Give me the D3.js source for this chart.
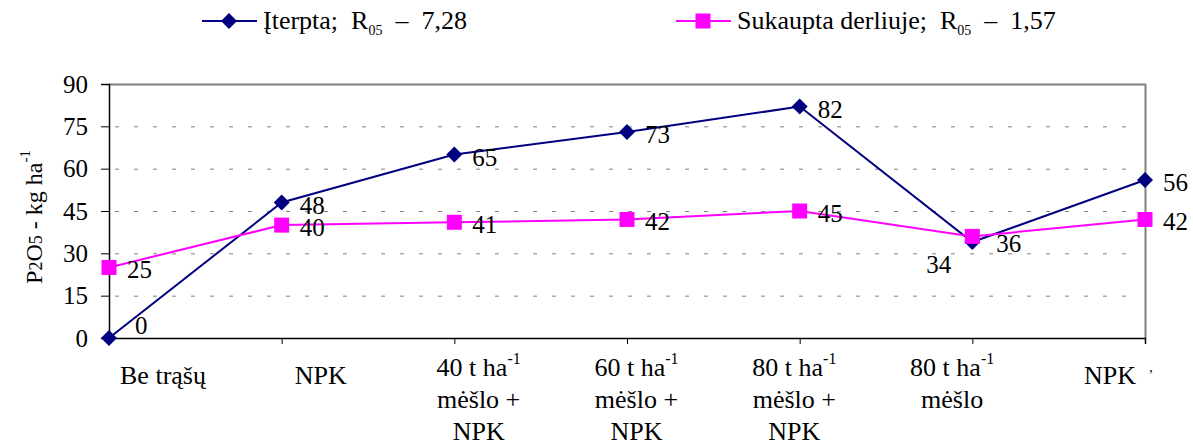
<!DOCTYPE html>
<html>
<head>
<meta charset="utf-8">
<script src="https://cdn.jsdelivr.net/npm/d3@7"></script>
<style>
  body { margin: 0; background: #fff; }
  svg, svg text { font-family: 'Liberation Serif', 'Times New Roman', Times, 'DejaVu Serif', serif !important; }
</style>
</head>
<body>
<div id="app"></div>
<script>
// categories (each entry = lines of the axis label)
const categories = ['Be trąšų', 'NPK', '40 t ha mėšlo NPK', '60 t ha mėšlo NPK', '80 t ha mėšlo NPK', '80 t ha mėšlo', 'NPK 2'];
const catLines = [
  ['Be trąšų'],
  ['NPK'],
  ['40 t ha|-1', 'mėšlo +', 'NPK'],
  ['60 t ha|-1', 'mėšlo +', 'NPK'],
  ['80 t ha|-1', 'mėšlo +', 'NPK'],
  ['80 t ha|-1', 'mėšlo'],
  ['NPK']
];
const iterpta = [0, 48, 65, 73, 82, 34, 56];
const sukaupta = [25, 40, 41, 42, 45, 36, 42];
const yTicks = [0, 15, 30, 45, 60, 75, 90];

const W = 1193, H = 446;
const plot = { left: 109, right: 1145, top: 84, bottom: 338 };

const svg = d3.select('#app').append('svg')
  .attr('width', W)
  .attr('height', H)
  .attr('viewBox', [0, 0, W, H]);

svg.append('rect').attr('width', W).attr('height', H).attr('fill', '#fff');

const x = d3.scalePoint()
  .domain(categories)
  .range([plot.left, plot.right]);

// category text sits a bit off the tick points in the original
const xLab = d3.scalePoint()
  .domain(categories)
  .range([163, 1110]);

const y = d3.scaleLinear()
  .domain([0, 90])
  .range([plot.bottom, plot.top]);

// gridlines
svg.append('g')
  .selectAll('line')
  .data(yTicks.filter(d => d > 0 && d < 90))
  .join('line')
  .attr('x1', plot.left + 6)
  .attr('x2', plot.right - 4)
  .attr('y1', d => y(d) + 0.5)
  .attr('y2', d => y(d) + 0.5)
  .attr('stroke', '#808080')
  .attr('stroke-width', 1)
  .attr('stroke-dasharray', '4,15');

// frame top & right
svg.append('path')
  .attr('d', `M${plot.left},${plot.top + 0.5}H${plot.right + 0.5}V${plot.bottom}`)
  .attr('fill', 'none')
  .attr('stroke', '#808080')
  .attr('stroke-width', 2);

// y axis
const yAxis = svg.append('g')
  .attr('transform', `translate(${plot.left},0)`)
  .call(d3.axisLeft(y).tickValues(yTicks).tickSize(8).tickPadding(13));
yAxis.attr('font-family', null);
yAxis.select('.domain').attr('stroke', '#000').attr('stroke-width', 1.5);
yAxis.selectAll('.tick line').attr('stroke', '#000');
yAxis.selectAll('.tick text')
  .attr('font-size', 25)
  .attr('fill', '#000');

// x axis
const xAxis = svg.append('g')
  .attr('transform', `translate(0,${plot.bottom})`)
  .call(d3.axisBottom(x).tickSize(6).tickFormat(''));
xAxis.select('.domain').attr('stroke', '#000').attr('stroke-width', 1.5);
xAxis.selectAll('.tick line').attr('stroke', '#000');

// category labels
const catG = svg.append('g')
  .attr('font-size', 26)
  .attr('text-anchor', 'middle')
  .attr('fill', '#000');

categories.forEach((c, i) => {
  const lines = catLines[i];
  lines.forEach((ln, j) => {
    const t = catG.append('text')
      .attr('x', xLab(c))
      .attr('y', (lines.length > 1 ? 376 : 384) + j * 32);
    const parts = ln.split('|');
    t.append('tspan').text(parts[0]);
    if (parts[1]) {
      t.append('tspan').attr('font-size', 16).attr('dy', -12).text(parts[1]);
    }
  });
});
catG.append('text').attr('x', 1151).attr('y', 372).attr('font-size', 14).text(',');

// y title
const yt = svg.append('text')
  .attr('transform', 'translate(42,217) rotate(-90)')
  .attr('text-anchor', 'middle')
  .attr('font-size', 24)
  .attr('fill', '#000');
yt.append('tspan').text('P');
yt.append('tspan').attr('font-size', 18).text('2');
yt.append('tspan').text('O');
yt.append('tspan').attr('font-size', 18).text('5');
yt.append('tspan').text(' - kg ha');
yt.append('tspan').attr('font-size', 15).attr('dy', -12).text('-1');

// series
const series = [
  { name: 'Įterpta', r05: '7,28', values: iterpta, color: '#000080', shape: 'diamond' },
  { name: 'Sukaupta derliuje', r05: '1,57', values: sukaupta, color: '#FF00FF', shape: 'square' }
];

const line = d3.line()
  .x((d, i) => x(categories[i]))
  .y(d => y(d));

function marker(g, shape, color) {
  if (shape === 'diamond') {
    g.append('path').attr('d', 'M0,-8L8,0L0,8L-8,0Z').attr('fill', color);
  } else {
    g.append('rect').attr('x', -7.5).attr('y', -7.5).attr('width', 15).attr('height', 15).attr('fill', color);
  }
}

series.forEach(s => {
  svg.append('path')
    .datum(s.values)
    .attr('d', line)
    .attr('fill', 'none')
    .attr('stroke', s.color)
    .attr('stroke-width', 2);
});

series.forEach(s => {
  s.values.forEach((v, i) => {
    const g = svg.append('g').attr('transform', `translate(${x(categories[i])},${y(v)})`);
    marker(g, s.shape, s.color);
  });
});

// data labels (a couple sit elsewhere to dodge the lines)
series.forEach((s, si) => {
  s.values.forEach((v, i) => {
    let dx = 18, dy = 11, anchor = 'start';
    if (si === 0 && i === 0) { dx = 26; dy = -4; }
    if (si === 0 && i === 5) { dx = -21; dy = 31; anchor = 'end'; }
    if (si === 1 && i === 5) { dx = 24; dy = 16; }
    svg.append('text')
      .attr('x', x(categories[i]) + dx)
      .attr('y', y(v) + dy)
      .attr('text-anchor', anchor)
      .attr('font-size', 25)
      .attr('fill', '#000')
      .text(v);
  });
});

// legend
const legendX = [202, 676];
series.forEach((s, i) => {
  const g = svg.append('g').attr('transform', `translate(${legendX[i]},21)`);
  g.append('line').attr('x1', 0).attr('x2', 55).attr('stroke', s.color).attr('stroke-width', 2);
  const m = g.append('g').attr('transform', 'translate(27,0)');
  marker(m, s.shape, s.color);
  const t = g.append('text')
    .attr('x', 61)
    .attr('y', 8)
    .attr('font-size', 26)
    .attr('fill', '#000')
    .attr('xml:space', 'preserve');
  t.append('tspan').text(s.name + ';  R');
  t.append('tspan').attr('font-size', 14).attr('dy', 6).text('05');
  t.append('tspan').attr('dy', -6).text('  –  ' + s.r05);
});
</script>
</body>
</html>
